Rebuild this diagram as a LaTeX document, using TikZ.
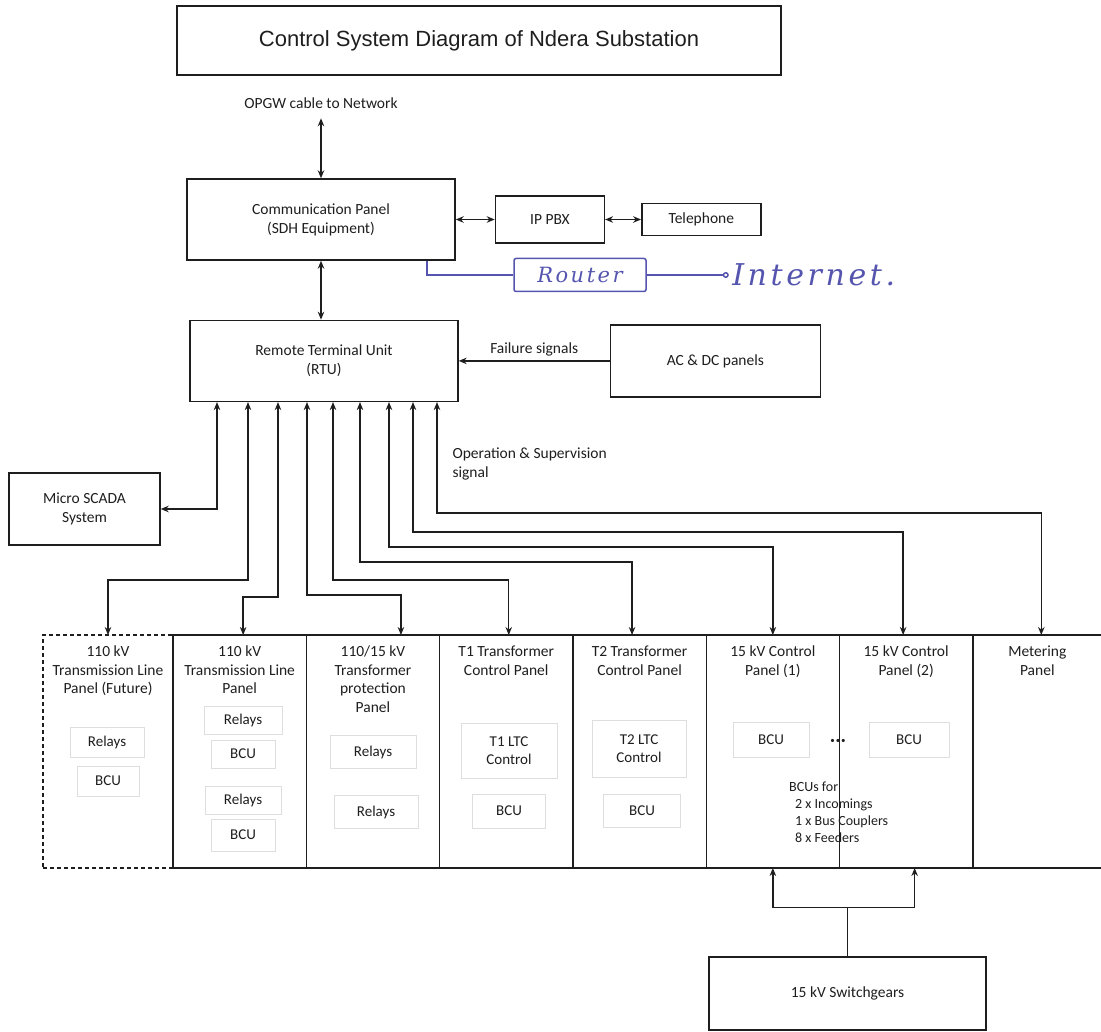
\documentclass[tikz,border=0pt]{standalone}
\usepackage{fontspec}
\setmainfont{Carlito}
\newfontfamily\titlefont{Liberation Sans}
\newfontfamily\handfont[LetterSpace=12]{DejaVu Serif}
\usetikzlibrary{arrows.meta,positioning}
\definecolor{ink}{RGB}{30,30,30}
\definecolor{pen}{RGB}{85,85,175}
\definecolor{faint}{RGB}{222,222,222}

\begin{document}
\begin{tikzpicture}[
    x=1pt, y=1pt,
    >={Stealth[length=8pt,width=6.5pt]},
    every node/.style={text=ink},
    block/.style={
        rectangle, draw=ink, line width=1.4pt,
        align=center, font=\fontsize{15.5}{19}\selectfont
    },
    titlebox/.style={block, minimum width=604pt, minimum height=69pt,
        font=\titlefont\fontsize{22}{26}\selectfont},
    note/.style={align=left, font=\fontsize{15.5}{19}\selectfont},
    panel/.style={
        rectangle, draw=ink, line width=1.4pt,
        minimum width=133.3pt, minimum height=233pt,
        inner sep=0pt, outer sep=0pt
    },
    ptitle/.style={align=center, anchor=north, inner sep=0pt,
        font=\fontsize{15.5}{18.5}\selectfont},
    unit/.style={rectangle, draw=faint, line width=0.8pt, align=center,
        minimum width=74pt, minimum height=30pt,
        font=\fontsize{15}{18}\selectfont},
    link/.style={<->, draw=ink, line width=1.4pt},
    feed/.style={->, draw=ink, line width=1.4pt},
    hand/.style={draw=pen, line width=1.5pt},
    handtext/.style={text=pen, font=\handfont\itshape\fontsize{30}{32}\selectfont}
]
    \useasboundingbox (0,0) rectangle (1101,-1032);

    % Title
    \node[titlebox] (title) at (479,-40.5) {Control System Diagram of Ndera Substation};

    % Communication level
    \node[block, minimum width=268pt, minimum height=81pt] (comm) at (321,-219.5) {Communication Panel\\(SDH Equipment)};
    \node[note, above=66pt of comm] (opgw) {OPGW cable to Network};
    \node[block, minimum width=109pt, minimum height=47pt, right=39pt of comm] (pbx) {IP PBX};
    \node[block, minimum width=119pt, minimum height=32pt, right=36pt of pbx] (tel) {Telephone};

    % Handwritten additions
    \node[hand, rectangle, rounded corners=2pt, minimum width=132pt, minimum height=33pt,
        text=pen, font=\handfont\itshape\fontsize{21}{23}\selectfont] (router) at (580,-275) {Router};
    \node[handtext, right=82pt of router] (net) {Internet.};

    % RTU level
    \node[block, minimum width=268pt, minimum height=81pt, below=59pt of comm, xshift=3pt] (rtu) {Remote Terminal Unit\\(RTU)};
    \node[block, minimum width=210pt, minimum height=72pt, right=151pt of rtu] (acdc) {AC \& DC panels};
    \node[note, anchor=north west] (ops) at (449,-444) {Operation \& Supervision\\signal};
    \node[block, minimum width=151pt, minimum height=72pt] (scada) at (84.5,-509) {Micro SCADA\\System};

    % Panels
    \node[panel, dashed, dash pattern=on 4pt off 3pt, minimum width=130pt, anchor=north west] (p1) at (43,-635) {};
    \node[panel, right=0pt of p1] (p2) {};
    \node[panel, right=0pt of p2] (p3) {};
    \node[panel, right=0pt of p3] (p4) {};
    \node[panel, right=0pt of p4] (p5) {};
    \node[panel, right=0pt of p5] (p6) {};
    \node[panel, right=0pt of p6] (p7) {};
    \node[panel, minimum width=129pt, right=0pt of p7] (p8) {};

    \node[ptitle] at ([yshift=-11pt]p1.north) {110 kV\\Transmission Line\\Panel (Future)};
    \node[ptitle] at ([yshift=-11pt]p2.north) {110 kV\\Transmission Line\\Panel};
    \node[ptitle] at ([yshift=-11pt]p3.north) {110/15 kV\\Transformer\\protection\\Panel};
    \node[ptitle] at ([yshift=-11pt]p4.north) {T1 Transformer\\Control Panel};
    \node[ptitle] at ([yshift=-11pt]p5.north) {T2 Transformer\\Control Panel};
    \node[ptitle] at ([yshift=-11pt]p6.north) {15 kV Control\\Panel (1)};
    \node[ptitle] at ([yshift=-11pt]p7.north) {15 kV Control\\Panel (2)};
    \node[ptitle] at ([yshift=-11pt]p8.north) {Metering\\Panel};

    % Panel contents
    \node[unit] (p1r) at (107,-742) {Relays};
    \node[unit, minimum width=62pt] (p1b) at (108,-781) {BCU};
    \node[unit, minimum width=78pt, minimum height=28pt] (p2r1) at (243,-720) {Relays};
    \node[unit, minimum width=64pt, minimum height=28pt] (p2b1) at (243,-754) {BCU};
    \node[unit, minimum width=76pt, minimum height=28pt] (p2r2) at (243,-800) {Relays};
    \node[unit, minimum width=64pt, minimum height=32pt] (p2b2) at (243,-835) {BCU};
    \node[unit, minimum width=86pt, minimum height=33pt] (p3r1) at (373,-752) {Relays};
    \node[unit, minimum width=84pt, minimum height=33pt] (p3r2) at (376,-812) {Relays};
    \node[unit, minimum width=96pt, minimum height=55pt] (p4c) at (509,-751) {T1 LTC\\Control};
    \node[unit, minimum width=73pt, minimum height=34pt] (p4b) at (509,-811) {BCU};
    \node[unit, minimum width=94pt, minimum height=57pt] (p5c) at (639,-749) {T2 LTC\\Control};
    \node[unit, minimum width=77pt, minimum height=33pt] (p5b) at (642,-811) {BCU};
    \node[unit, minimum width=76pt, minimum height=35pt] (p6b) at (771,-740) {BCU};
    \node[unit, minimum width=80pt, minimum height=35pt] (p7b) at (909,-740) {BCU};
    \node[font=\fontsize{9}{10}\selectfont, inner sep=0pt] (dots) at (838,-741) {\textbullet\hspace{1pt}\textbullet\hspace{1pt}\textbullet};
    \node[anchor=north west, align=left, inner sep=0pt, font=\fontsize{14}{17}\selectfont] (bcus) at (789,-782)
        {BCUs for\\\hspace*{6pt}2 x Incomings\\\hspace*{6pt}1 x Bus Couplers\\\hspace*{6pt}8 x Feeders};

    % Switchgear
    \node[block, minimum width=277pt, minimum height=73pt] (swg) at (847.5,-993.5) {15 kV Switchgears};

    % Connections
    \draw[link, shorten <=6pt] (opgw) -- (comm);
    \draw[link] (comm) -- (pbx);
    \draw[link] (pbx) -- (tel);
    \draw[link] (comm.south) -- (comm.south |- rtu.north);
    \draw[feed] (acdc) -- node[note, above=1pt] {Failure signals} (rtu);
    \draw[hand] ([xshift=106pt]comm.south) |- (router.west);
    \draw[hand, -{Circle[open,length=6pt,width=6pt]}] (router) -- (net);

    \draw[link] ([xshift=-107pt]rtu.south) |- (scada.east);
    \draw[link] ([xshift=-76pt]rtu.south) -- ++(0,-178) -| (p1.north);
    \draw[link] ([xshift=-46pt]rtu.south) -- ++(0,-195) -| ([xshift=3.5pt]p2.north);
    \draw[link] ([xshift=-17pt]rtu.south) -- ++(0,-193) -| ([xshift=28pt]p3.north);
    \draw[link] ([xshift=9pt]rtu.south) -- ++(0,-178) -| ([xshift=2.5pt]p4.north);
    \draw[link] ([xshift=36pt]rtu.south) -- ++(0,-160) -| ([xshift=-7.5pt]p5.north);
    \draw[link] ([xshift=65pt]rtu.south) -- ++(0,-145) -| (p6.north);
    \draw[link] ([xshift=89pt]rtu.south) -- ++(0,-130) -| ([xshift=-3pt]p7.north);
    \draw[link] ([xshift=113pt]rtu.south) -- ++(0,-111) -| ([xshift=4pt]p8.north);

    \draw[draw=ink, line width=1.4pt] (swg.north) -- ++(0,49) coordinate (fork);
    \draw[feed] (fork) -| (p6.south);
    \draw[feed] (fork) -| ([xshift=8.5pt]p7.south);

\end{tikzpicture}
\end{document}
